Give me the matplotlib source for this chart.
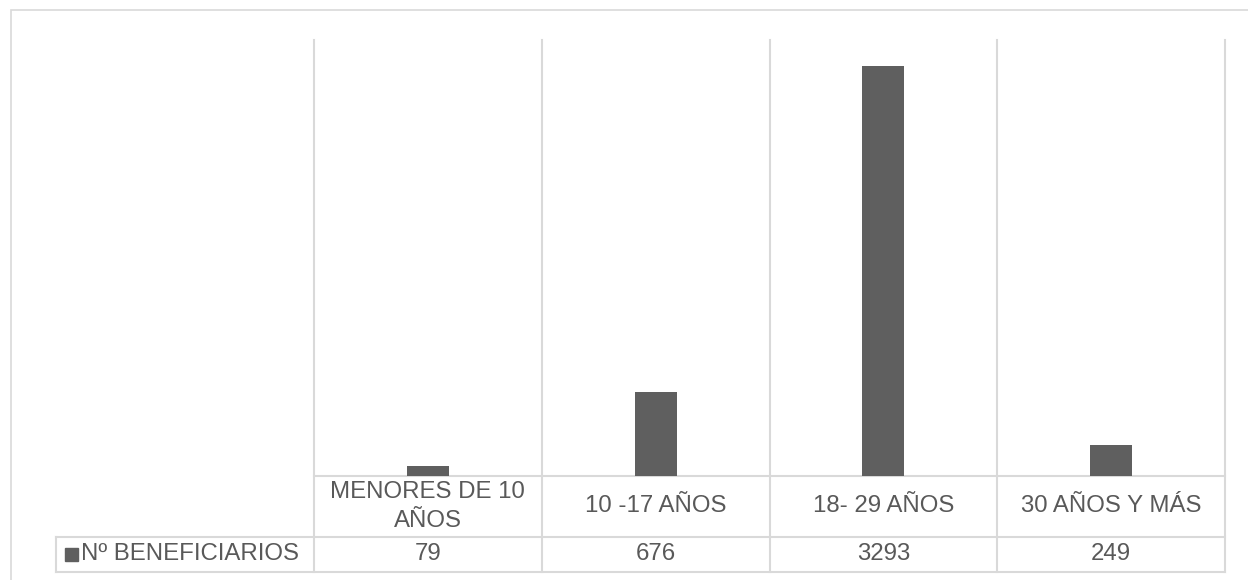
import matplotlib.pyplot as plt
from matplotlib.patches import Rectangle
import matplotlib.transforms as mtransforms

categories = ['MENORES DE 10\nAÑOS', '10 -17 AÑOS', '18- 29 AÑOS', '30 AÑOS Y MÁS']
values = [79, 676, 3293, 249]
series_name = 'Nº BENEFICIARIOS'

plt.rcParams['font.family'] = ['Liberation Sans', 'DejaVu Sans']
text_color = '#595959'
bar_color = '#5f5f5f'
grid_color = '#d9d9d9'
fs = 17.3

W, H = 1248, 580
fig = plt.figure(figsize=(W / 100, H / 100), dpi=100)

# outer chart frame (runs off the right and bottom edges)
fig.patches.append(Rectangle((11 / W, -0.05), 1.2, (H - 10) / H + 0.05,
                             transform=fig.transFigure, fill=False,
                             edgecolor=grid_color, linewidth=1.2))

# plot area
ax = fig.add_axes([314 / W, (H - 476) / H, (1225 - 314) / W, 436 / H])
x = list(range(len(categories)))
ax.bar(x, values, width=0.185, color=bar_color, zorder=3)
ax.set_xlim(-0.5, len(categories) - 0.5)
ax.set_ylim(0, 3500)
ax.set_xticks([])
ax.set_yticks([])
for s in ax.spines.values():
    s.set_visible(False)

# vertical separators between categories (extend down through the table)
trans = mtransforms.blended_transform_factory(ax.transData, ax.transAxes)
row1 = -(537 - 476) / 436
row2 = -(572 - 476) / 436
for b in [i - 0.5 for i in range(len(categories) + 1)]:
    ax.plot([b, b], [row2, 1], transform=trans, color=grid_color,
            linewidth=1.5, clip_on=False, zorder=1)

# data table horizontal lines
px = lambda p: (p - 314) / 227.75 - 0.5
left_tab = px(56)
ax.plot([-0.5, len(categories) - 0.5], [0, 0], transform=trans, color=grid_color,
        linewidth=1.5, clip_on=False)
for yy in [row1, row2]:
    ax.plot([left_tab, len(categories) - 0.5], [yy, yy], transform=trans,
            color=grid_color, linewidth=1.5, clip_on=False)
ax.plot([left_tab, left_tab], [row2, row1], transform=trans, color=grid_color,
        linewidth=1.5, clip_on=False)

# table text
for i, (c, v) in enumerate(zip(categories, values)):
    ax.text(i, row1 / 2, c, transform=trans, ha='center', va='center',
            fontsize=fs, color=text_color, linespacing=1.38)
    ax.text(i, (row1 + row2) / 2, str(v), transform=trans, ha='center',
            va='center', fontsize=fs, color=text_color)

# legend key
ymid = (row1 + row2) / 2
ax.add_patch(Rectangle((px(65), ymid - 6.5 / 436), 13 / 227.75, 13 / 436,
                       transform=trans, color=bar_color, clip_on=False))
ax.text(px(81), ymid, series_name, transform=trans, ha='left', va='center',
        fontsize=fs, color=text_color)

fig.savefig('out.png', dpi=100)
